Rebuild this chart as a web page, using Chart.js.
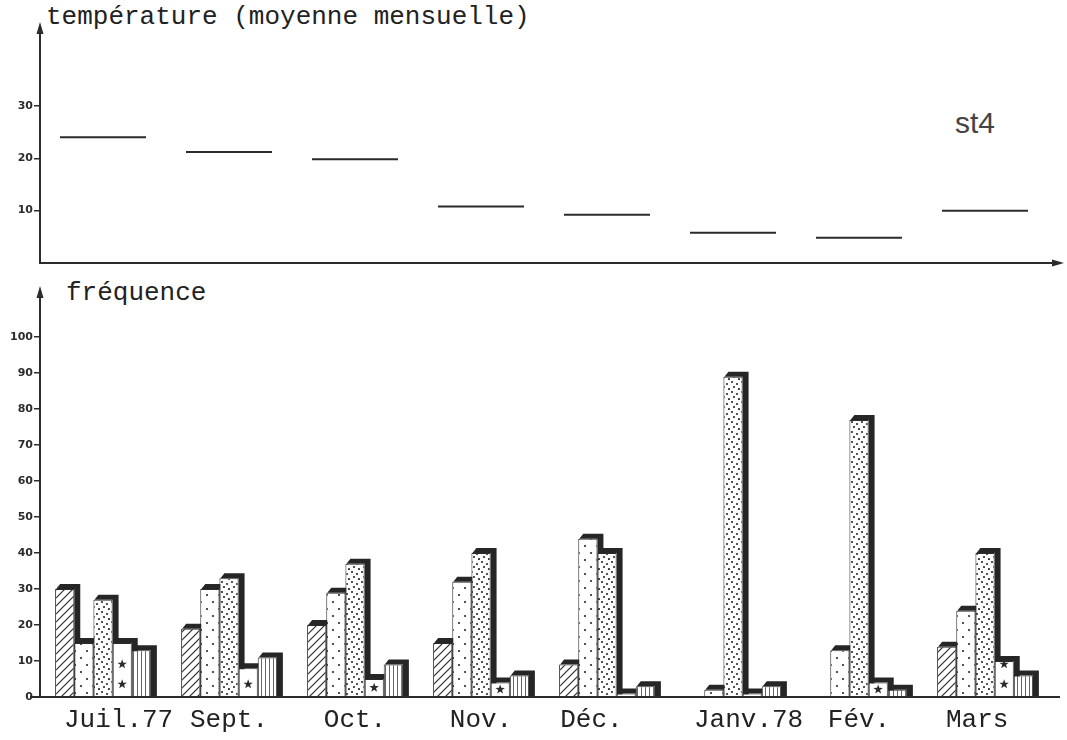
<!DOCTYPE html>
<html lang="fr">
<head>
<meta charset="utf-8">
<script src="https://cdn.jsdelivr.net/npm/chart.js@4.4.1/dist/chart.umd.min.js"></script>
<style>
  body { margin: 0; background: #fff; width: 1067px; height: 740px; overflow: hidden; position: relative; }
  canvas { position: absolute; left: 0; }
  #topChart { top: 0; }
  #bottomChart { top: 270px; }
  .lbl { position: absolute; font-family: "Liberation Mono", monospace; color: #222; font-size: 26px; white-space: pre; }
  #station { position: absolute; left: 955px; top: 106px; font-family: "Liberation Sans", Arial, sans-serif; font-size: 30px; color: #444; }
</style>
</head>
<body>
<div class="lbl" style="left:46px; top:2px;">température (moyenne mensuelle)</div>
<div class="lbl" style="left:66px; top:278px;">fréquence</div>
<div id="station">st4</div>
<canvas id="topChart" width="1067" height="275"></canvas>
<canvas id="bottomChart" width="1067" height="470"></canvas>
<script>
// mois (axe commun)
const months = ["  Juil.77", "Sept.", "Oct.", "Nov.", "Déc.  ", "  Janv.78", "Fév.", "Mars "];

// température moyenne mensuelle (°C)
const temperature = [24, 21.2, 19.8, 10.8, 9.2, 5.8, 4.8, 10];
const tempTicks = [10, 20, 30];

// fréquences (%) par motif
const freqHatched = [30, 19, 20, 15, 9, 0, 0, 14];
const freqSparse = [15, 30, 29, 32, 44, 2, 13, 24];
const freqDense = [27, 33, 37, 40, 40, 89, 77, 40];
const freqStar = [15, 8, 5, 4, 1, 1, 4, 10];
const freqVert = [13, 11, 9, 6, 3, 3, 2, 6];
const freqTicks = [0, 10, 20, 30, 40, 50, 60, 70, 80, 90, 100];

const ink = "#2b2b2b";

// motifs de remplissage
function makePattern(w, h, draw) {
	const c = document.createElement("canvas");
	c.width = w;
	c.height = h;
	const g = c.getContext("2d");
	g.fillStyle = "#fff";
	g.fillRect(0, 0, w, h);
	g.strokeStyle = ink;
	g.fillStyle = ink;
	draw(g);
	return g.createPattern(c, "repeat");
}

const hatchPattern = makePattern(8, 8, g => {
	g.lineWidth = 1.2;
	g.beginPath();
	g.moveTo(0, 8); g.lineTo(8, 0);
	g.moveTo(-4, 4); g.lineTo(4, -4);
	g.moveTo(4, 12); g.lineTo(12, 4);
	g.stroke();
});

const sparsePattern = makePattern(12, 14, g => {
	[[3, 3], [9, 10]].forEach(([x, y]) => {
		g.beginPath(); g.arc(x, y, 1.1, 0, Math.PI * 2); g.fill();
	});
});

const densePattern = makePattern(10, 10, g => {
	[[2, 2], [7, 4], [4, 7], [9, 9]].forEach(([x, y]) => {
		g.beginPath(); g.arc(x, y, 1.1, 0, Math.PI * 2); g.fill();
	});
});

const vertPattern = makePattern(4, 4, g => {
	g.strokeStyle = "#666";
	g.lineWidth = 1;
	g.beginPath(); g.moveTo(1.5, 0); g.lineTo(1.5, 4); g.stroke();
});

// ombre "3D" derrière chaque barre
const barShadow = {
	id: "barShadow",
	beforeDatasetsDraw(chart) {
		const ctx = chart.ctx;
		ctx.save();
		ctx.fillStyle = "#262626";
		chart.data.datasets.forEach((ds, i) => {
			const meta = chart.getDatasetMeta(i);
			meta.data.forEach((bar, j) => {
				if (!ds.data[j]) return;
				const { x, y, base, width } = bar.getProps(["x", "y", "base", "width"], true);
				const l = x - width / 2, r = x + width / 2, d = 6;
				ctx.beginPath();
				ctx.moveTo(l + 1, y);
				ctx.lineTo(l + d - 1, y - d + 1);
				ctx.lineTo(r + d, y - d + 1);
				ctx.lineTo(r + d, base);
				ctx.lineTo(r, base);
				ctx.lineTo(r, y);
				ctx.closePath();
				ctx.fill();
			});
		});
		ctx.restore();
	},
	// petites étoiles dans les barres du motif "étoiles"
	afterDatasetsDraw(chart) {
		const ctx = chart.ctx;
		chart.data.datasets.forEach((ds, i) => {
			if (!ds.stars) return;
			chart.getDatasetMeta(i).data.forEach((bar, j) => {
				if (!ds.data[j]) return;
				const { x, y, base } = bar.getProps(["x", "y", "base"], true);
				const h = base - y;
				if (h < 10) return;
				if (h < 24) {
					drawStar(ctx, x, (base + y) / 2);
					return;
				}
				for (let cy = base - 12; cy - 3 > y; cy -= 20) drawStar(ctx, x, cy);
			});
		});
	},
};

function drawStar(ctx, cx, cy) {
	ctx.save();
	ctx.fillStyle = ink;
	ctx.beginPath();
	for (let i = 0; i < 10; i++) {
		const r = i % 2 === 0 ? 5 : 2;
		const a = -Math.PI / 2 + i * Math.PI / 5;
		const x = cx + r * Math.cos(a), y = cy + r * Math.sin(a);
		if (i === 0) ctx.moveTo(x, y); else ctx.lineTo(x, y);
	}
	ctx.closePath();
	ctx.fill();
	ctx.restore();
}

// prolongement des axes et flèches
const axisArrows = {
	id: "axisArrows",
	afterDraw(chart, args, opts) {
		const { ctx, chartArea: a } = chart;
		ctx.save();
		ctx.strokeStyle = ink;
		ctx.fillStyle = ink;
		ctx.lineWidth = 2;
		ctx.beginPath();
		ctx.moveTo(opts.xStart, a.bottom);
		ctx.lineTo(opts.xEnd, a.bottom);
		ctx.stroke();
		const ty = a.top;
		ctx.beginPath();
		ctx.moveTo(a.left, ty - 8);
		ctx.lineTo(a.left - 3.5, ty + 4);
		ctx.lineTo(a.left + 3.5, ty + 4);
		ctx.closePath();
		ctx.fill();
		if (opts.xArrow) {
			ctx.beginPath();
			ctx.moveTo(opts.xEnd + 6, a.bottom);
			ctx.lineTo(opts.xEnd - 6, a.bottom - 3.5);
			ctx.lineTo(opts.xEnd - 6, a.bottom + 3.5);
			ctx.closePath();
			ctx.fill();
		}
		ctx.restore();
	},
};

const tickFont = { family: "'DejaVu Sans', sans-serif", size: 11, weight: "bold" };

function yAxis(max, ticks) {
	return {
		min: 0,
		max: max,
		afterFit(scale) { scale.width = 40; },
		afterBuildTicks(scale) { scale.ticks = ticks.map(v => ({ value: v })); },
		border: { display: true, color: ink, width: 2 },
		grid: { display: true, drawOnChartArea: false, drawTicks: true, tickLength: 6, color: ink, lineWidth: 1.5 },
		ticks: { color: ink, font: tickFont, padding: 1 },
	};
}

// graphique du haut : température
new Chart(document.getElementById("topChart"), {
	type: "line",
	data: {
		labels: months,
		datasets: [
			{
				label: "température",
				data: temperature,
				showLine: false,
				pointStyle: "line",
				pointRadius: 43,
				pointHoverRadius: 43,
				pointBorderWidth: 2,
				borderColor: ink,
				backgroundColor: ink,
				clip: false,
			},
		],
	},
	options: {
		responsive: false,
		animation: false,
		events: [],
		layout: { autoPadding: false, padding: { left: 0, right: 19, top: 30, bottom: 0 } },
		scales: {
			x: {
				offset: true,
				afterFit(scale) { scale.height = 12; },
				border: { display: true, color: ink, width: 2 },
				grid: { display: false, drawTicks: false },
				ticks: { display: false },
			},
			y: yAxis(44.5, tempTicks),
		},
		plugins: {
			legend: { display: false },
			tooltip: { enabled: false },
			axisArrows: { xStart: 40, xEnd: 1058, xArrow: true },
		},
	},
	plugins: [axisArrows],
});

// graphique du bas : fréquences
const barStyle = { borderColor: ink, borderWidth: 1, categoryPercentage: 0.76, barPercentage: 1.0 };

new Chart(document.getElementById("bottomChart"), {
	type: "bar",
	data: {
		labels: months,
		datasets: [
			{ label: "hachuré", data: freqHatched, backgroundColor: hatchPattern, ...barStyle },
			{ label: "points épars", data: freqSparse, backgroundColor: sparsePattern, ...barStyle },
			{ label: "points serrés", data: freqDense, backgroundColor: densePattern, ...barStyle },
			{ label: "étoiles", data: freqStar, backgroundColor: "#fff", stars: true, ...barStyle },
			{ label: "rayé", data: freqVert, backgroundColor: vertPattern, ...barStyle },
		],
	},
	options: {
		responsive: false,
		animation: false,
		events: [],
		layout: { padding: { left: 0, right: 19, top: 24, bottom: 0 } },
		scales: {
			x: {
				afterFit(scale) { scale.height = 43; },
				border: { display: true, color: ink, width: 2 },
				grid: { display: false, drawTicks: false },
				ticks: {
					color: "#222",
					padding: 8,
					maxRotation: 0,
					autoSkip: false,
					font: { family: "'Liberation Mono', monospace", size: 26 },
				},
			},
			y: yAxis(112, freqTicks),
		},
		plugins: {
			legend: { display: false },
			tooltip: { enabled: false },
			axisArrows: { xStart: 30, xEnd: 1060, xArrow: false },
		},
	},
	plugins: [barShadow, axisArrows],
});
</script>
</body>
</html>
